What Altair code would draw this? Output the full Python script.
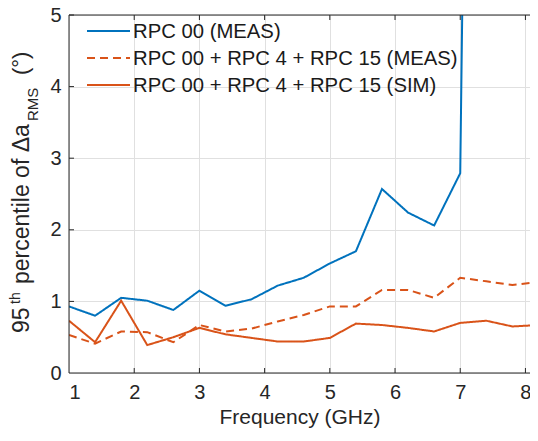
import altair as alt
import pandas as pd

freq = [1.0, 1.4, 1.8, 2.2, 2.6, 3.0, 3.4, 3.8, 4.2, 4.6, 5.0, 5.4, 5.8, 6.2, 6.6, 7.0, 7.4, 7.8, 8.2]
rpc00_meas = [0.93, 0.80, 1.05, 1.01, 0.88, 1.15, 0.94, 1.03, 1.22, 1.33, 1.53, 1.70,
              2.57, 2.24, 2.06, 2.79, 32.0, 35.0, 33.0]
combo_meas = [0.53, 0.41, 0.58, 0.57, 0.43, 0.67, 0.58, 0.62, 0.72, 0.81, 0.93, 0.93,
              1.16, 1.16, 1.05, 1.33, 1.28, 1.23, 1.27]
combo_sim = [0.73, 0.43, 1.01, 0.39, 0.50, 0.63, 0.54, 0.49, 0.44, 0.44, 0.49, 0.69,
             0.67, 0.63, 0.58, 0.70, 0.73, 0.65, 0.67]
series = ["RPC 00 (MEAS)", "RPC 00 + RPC 4 + RPC 15 (MEAS)", "RPC 00 + RPC 4 + RPC 15 (SIM)"]
colors = ["#0072BD", "#D95319", "#D95319"]
dashes = [[1, 0], [8, 5], [1, 0]]
x_ticks = [1, 2, 3, 4, 5, 6, 7, 8]
y_ticks = [0, 1, 2, 3, 4, 5]
x_max = 8.07

W, H = 461, 358
FONT = "Liberation Sans"
TXT = "#262626"

rows = []
for name, vals in zip(series, [rpc00_meas, combo_meas, combo_sim]):
    for f, v in zip(freq, vals):
        rows.append({"freq": f, "val": v, "series": name})
df = pd.DataFrame(rows)

xs = alt.Scale(domain=[1, x_max], nice=False)
ys = alt.Scale(domain=[0, 5], nice=False)
col_scale = alt.Scale(domain=series, range=colors)
dash_scale = alt.Scale(domain=series, range=dashes)
x_axis = alt.Axis(values=x_ticks, format="d", title="Frequency (GHz)")

lines = alt.Chart(df).mark_line(strokeWidth=2, clip=True).encode(
    x=alt.X("freq:Q", scale=xs, axis=x_axis),
    y=alt.Y("val:Q", scale=ys, axis=alt.Axis(values=y_ticks, format="d", title=None)),
    color=alt.Color("series:N", sort=series, scale=col_scale, legend=None),
    strokeDash=alt.StrokeDash("series:N", sort=series, scale=dash_scale, legend=None),
    order="freq:Q",
)

# legend drawn in the upper-left corner (MATLAB style, no box)
leg = pd.DataFrame({"series": series, "row": [0, 1, 2]})
leg_y = alt.Y("row:Q", scale=alt.Scale(domain=[0, 1], range=[16, 43]), axis=None)
leg_lines = alt.Chart(leg).mark_rule(strokeWidth=2).encode(
    x=alt.value(18), x2=alt.value(61), y=leg_y,
    color=alt.Color("series:N", scale=col_scale, legend=None),
    strokeDash=alt.StrokeDash("series:N", scale=dash_scale, legend=None),
)
leg_text = alt.Chart(leg).mark_text(
    align="left", baseline="middle", font=FONT, fontSize=20.3, color="#1a1a1a", dy=1
).encode(x=alt.value(64), y=leg_y, text="series:N")

xt = pd.DataFrame({"t": x_ticks[1:]})
yt = pd.DataFrame({"t": y_ticks[1:]})
tick_style = dict(color=TXT, strokeWidth=1)
bx = alt.Chart(xt).mark_rule(**tick_style).encode(
    x=alt.X("t:Q", scale=xs, axis=x_axis), y=alt.value(H), y2=alt.value(H - 5))
tx = alt.Chart(xt).mark_rule(**tick_style).encode(
    x=alt.X("t:Q", scale=xs, axis=x_axis), y=alt.value(0), y2=alt.value(5))
ly = alt.Chart(yt).mark_rule(**tick_style).encode(
    y=alt.Y("t:Q", scale=ys, axis=None), x=alt.value(0), x2=alt.value(5))
one = pd.DataFrame({"a": [0]})
frame_top = alt.Chart(one).mark_rule(**tick_style).encode(x=alt.value(0), x2=alt.value(W), y=alt.value(0))
frame_left = alt.Chart(one).mark_rule(**tick_style).encode(x=alt.value(0), y=alt.value(0), y2=alt.value(H))
frame_bottom = alt.Chart(one).mark_rule(**tick_style).encode(x=alt.value(0), x2=alt.value(W), y=alt.value(H))

# y-axis title pieces (rich text: superscript / subscript)
title_parts = [
    ("95", -40, 318, 23),
    ("th", -49, 289, 14),
    ("percentile of \u0394a", -40, 269, 23),
    ("RMS", -31, 106, 15),
    ("(\u00b0)", -41, 60, 22),
]
tparts = []
for txt, px, py, fs in title_parts:
    tparts.append(
        alt.Chart(one).mark_text(
            text=txt, angle=270, align="left", baseline="alphabetic",
            font=FONT, fontSize=fs, color=TXT
        ).encode(x=alt.value(px), y=alt.value(py))
    )

chart = alt.layer(
    lines, bx, tx, ly, frame_top, frame_left, frame_bottom, leg_lines, leg_text, *tparts
).resolve_scale(y="independent").properties(
    width=W, height=H,
    autosize=alt.AutoSizeParams(type="none"),
    padding={"left": 61, "top": 7, "right": 0, "bottom": 55},
).configure_view(
    stroke=None
).configure_axis(
    grid=True, gridColor="#e0e0e0", gridWidth=1, domain=False, ticks=False, tickSize=0,
    labelFont=FONT, labelFontSize=20, labelColor=TXT,
    titleFont=FONT, titleFontSize=21, titleFontWeight="normal", titleColor=TXT,
).configure_axisX(
    labelPadding=9, titlePadding=4
).configure_axisY(
    labelPadding=8
)

chart.save("out.html", embed_options={"renderer": "svg", "actions": False})
